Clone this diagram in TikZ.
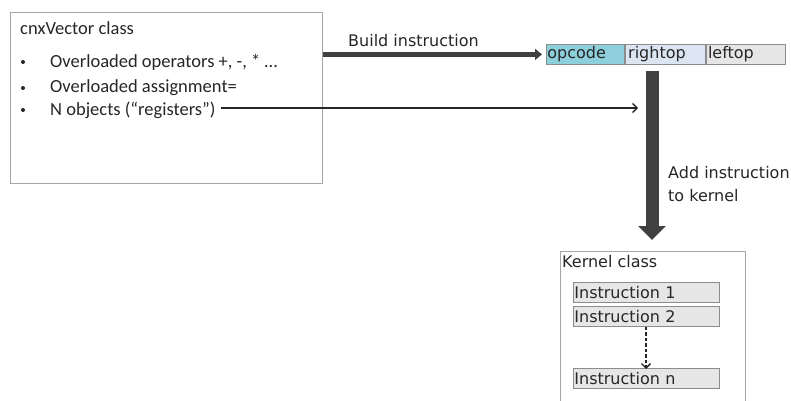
\documentclass[tikz,border=0pt]{standalone}
\usepackage{fontspec}
\setmainfont{Carlito}
\newfontfamily\vfont{DejaVu Sans}
\usetikzlibrary{arrows.meta}
\definecolor{boxline}{HTML}{A6A6A6}
\definecolor{fieldline}{HTML}{8C8C8C}
\definecolor{opfill}{HTML}{8ECFDC}
\definecolor{rtfill}{HTML}{DCE6F2}
\definecolor{ltfill}{HTML}{E6E6E6}
\definecolor{heavy}{HTML}{404040}
\definecolor{inkdark}{HTML}{262626}
\tikzset{
  classbox/.style={draw=boxline, line width=0.8pt, anchor=north west, inner sep=0pt},
  bodytext/.style={anchor=west, inner sep=0pt, font=\fontsize{18.5}{21}\selectfont, text=inkdark},
  dotmark/.style={circle, fill=inkdark, inner sep=0pt, minimum size=4pt},
  vtext/.style={anchor=west, inner sep=0pt, font=\vfont\fontsize{16}{19}\selectfont, text=inkdark},
  field/.style={draw=fieldline, line width=0.8pt, anchor=north west, minimum height=20pt,
    inner xsep=1pt, inner ysep=0pt, align=left, font=\vfont\fontsize{16}{19}\selectfont, text=inkdark},
  instr/.style={draw=fieldline, line width=0.8pt, fill=ltfill, anchor=north west, minimum height=20pt,
    text width=144pt, inner xsep=1pt, inner ysep=0pt, align=left, font=\vfont\fontsize{16}{19}\selectfont, text=inkdark},
  heavyarrow/.style={draw=heavy, line width=5pt, -{Triangle[width=11pt,length=7pt]}},
  thinarrow/.style={draw=inkdark, line width=1.3pt, -{Straight Barb[width=9pt,length=4.5pt]}},
  bigdown/.style={draw=heavy, line width=13pt, -{Triangle[width=27pt,length=14pt]}},
  dasharrow/.style={draw=inkdark, line width=1.3pt, dash pattern=on 3.5pt off 2pt, -{Straight Barb[width=9pt,length=4.5pt]}}
}
\begin{document}
\begin{tikzpicture}[x=1pt,y=-1pt]
\clip (0,0) rectangle (791,400);

% vector class box and its contents
\node[classbox, minimum width=312pt, minimum height=171pt] (vec) at (10,12) {};
\node[bodytext] (vtitle) at (20,28) {cnxVector class};
\node[dotmark] (b1) at (23,62) {};
\node[dotmark] (b2) at (23,88) {};
\node[dotmark] (b3) at (23,110) {};
\node[bodytext] (ops) at (50,62) {Overloaded operators +, -, * …};
\node[bodytext] (asg) at (50,88) {Overloaded assignment=};
\node[bodytext] (regs) at (50,110) {N objects (“registers”)};

% instruction fields
\node[field, fill=opfill, text width=76pt] (opc) at (546,44) {opcode};
\node[field, fill=rtfill, text width=74pt, inner xsep=3pt] (rop) at (opc.north east) {rightop};
\node[field, fill=ltfill, text width=75pt, inner xsep=2pt] (lop) at (rop.north east) {leftop};

% build arrow
\draw[heavyarrow, shorten >=4pt] (vec.east |- opc.west) -- (opc.west);
\node[vtext] (build) at (348,41) {Build instruction};

% register arrow
\coordinate (regend) at (638,108);
\draw[thinarrow] ([xshift=5pt]regs.east |- regend) -- (regend);

% kernel class box
\node[classbox, minimum width=185pt, minimum height=170pt] (kern) at (560,251) {};
\node[vtext] (ktitle) at (562,262) {Kernel class};
\node[instr] (i1) at (573,282) {Instruction 1};
\node[instr] (i2) at (573,306) {Instruction 2};
\node[instr] (in) at (573,368) {Instruction n};
\draw[dasharrow] (i2.south -| 646,0) -- ([yshift=-1pt]in.north -| 646,0);

% add-to-kernel arrow
\coordinate (dtop) at (652,71);
\draw[bigdown, shorten >=11pt] (dtop) -- (dtop |- kern.north);
\node[vtext] (add1) at (668,173) {Add instruction};
\node[vtext] (add2) at (668,196) {to kernel};
\end{tikzpicture}
\end{document}
